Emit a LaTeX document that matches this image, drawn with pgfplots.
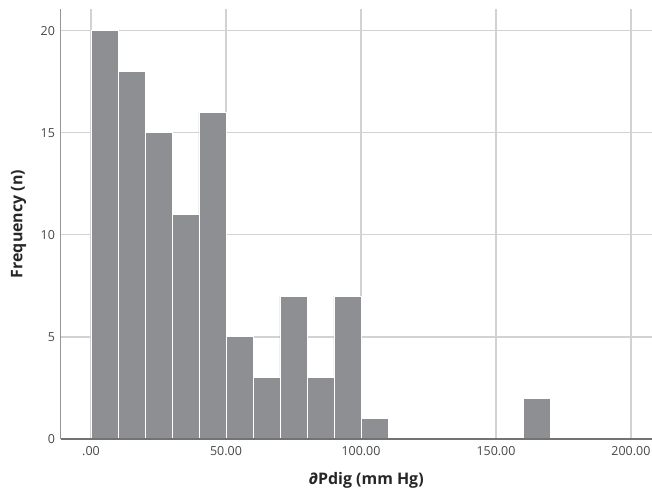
\documentclass[border=0pt]{standalone}
\usepackage{fontspec}
\setmainfont{Open Sans}
\usepackage{pgfplots}
\pgfplotsset{compat=1.18}
\definecolor{barc}{RGB}{142,143,147}
\definecolor{gridc}{RGB}{210,210,212}
\definecolor{axc}{RGB}{150,150,150}
\begin{document}
\begin{tikzpicture}
\begin{axis}[
  scale only axis, width=591.5bp, height=430bp,
  xmin=-11.3, xmax=207.8, ymin=0, ymax=21.06,
  axis x line=bottom, axis y line=left,
  axis line style={axc, line width=1bp, -},
  xtick={0,50,100,150,200}, xticklabels={.00,50.00,100.00,150.00,200.00},
  ytick={0,5,10,15,20},
  major tick length=0pt,
  xmajorgrids, ymajorgrids,
  grid style={gridc, line width=1.3bp},
  tick label style={font=\fontsize{12.5}{14}\selectfont, text=black!72},
  /pgf/number format/assume math mode=true,
  xticklabel style={yshift=-4bp},
  yticklabel style={xshift=-2bp},
  xlabel={∂Pdig (mm Hg)}, ylabel={Frequency (n)},
  label style={font=\fontsize{16}{18}\selectfont\bfseries, text=black!85},
  xlabel style={at={(axis description cs:0.5,0)}, anchor=center, xshift=10bp, yshift=-41bp},
  ylabel style={at={(axis description cs:-0.071,0.5)}, anchor=center},
]
\addplot[ybar interval, fill=barc, draw=white, line width=0.9bp] coordinates {
 (0,20) (10,18) (20,15) (30,11) (40,16) (50,5) (60,3) (70,7) (80,3) (90,7) (100,1) (110,1)};
\addplot[ybar interval, fill=barc, draw=white, line width=0.9bp] coordinates {
 (160,2) (170,2)};
\draw[black!55, line width=1.1bp] (rel axis cs:0,0) -- (rel axis cs:1,0);
\coordinate (sw) at (rel axis cs:0,0);
\coordinate (ne) at (rel axis cs:1,1);
\end{axis}
\pgfresetboundingbox
\path[use as bounding box] ([shift={(-60.5bp,-53bp)}]sw) rectangle ([shift={(0bp,9bp)}]ne);
\end{tikzpicture}
\end{document}
